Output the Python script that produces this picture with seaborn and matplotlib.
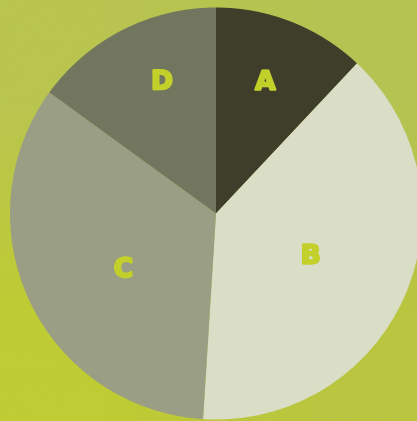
import numpy as np
import matplotlib
matplotlib.use("Agg")
import matplotlib.pyplot as plt
import matplotlib.patheffects as pe
import seaborn as sns

# Data
categories = ["A", "B", "C", "D"]
values = [12, 39, 34, 15]

# Styles
slice_colors = ["#3e3e2b", "#dadec6", "#9a9e85", "#72765f"]
label_color = "#c3d02a"
label_radius = [0.69, 0.50, 0.52, 0.70]
label_angle_shift = [1.3, 0.2, 5.0, -5.0]

sns.set_theme(style="white")
plt.rcParams["font.family"] = ["DejaVu Sans"]

W, H = 417, 421
fig = plt.figure(figsize=(W / 100, H / 100), dpi=100)
ax = fig.add_axes([0, 0, 1, 1])

# background gradient
corners = np.array([
    [[0xb9, 0xc5, 0x4f], [0xb4, 0xc4, 0x52]],
    [[0xbf, 0xcc, 0x33], [0xba, 0xc6, 0x3f]],
]) / 255.0
ax.imshow(corners, extent=[0, W, 0, H], interpolation="bilinear",
          aspect="auto", zorder=0)

cx, cy, r = 216, H - 213.5, 206
wedges, texts = ax.pie(values, labels=categories, colors=slice_colors,
                       startangle=90, counterclock=False,
                       center=(cx, cy), radius=r, labeldistance=0.6,
                       wedgeprops=dict(linewidth=0), frame=True,
                       textprops=dict(color=label_color, fontsize=19,
                                      fontweight="heavy"))
for w in wedges:
    w.set_zorder(2)
for i, (w, t) in enumerate(zip(wedges, texts)):
    ang = np.deg2rad((w.theta1 + w.theta2) / 2 + label_angle_shift[i])
    t.set_position((cx + label_radius[i] * r * np.cos(ang),
                    cy + label_radius[i] * r * np.sin(ang) - 2.5))
    t.set_ha("center")
    t.set_va("center")
    t.set_zorder(3)
    t.set_path_effects([pe.withStroke(linewidth=1.6, foreground=label_color)])

ax.set_xlim(0, W)
ax.set_ylim(0, H)
ax.set_aspect("auto")
ax.axis("off")
fig.savefig("out.png", dpi=100)
